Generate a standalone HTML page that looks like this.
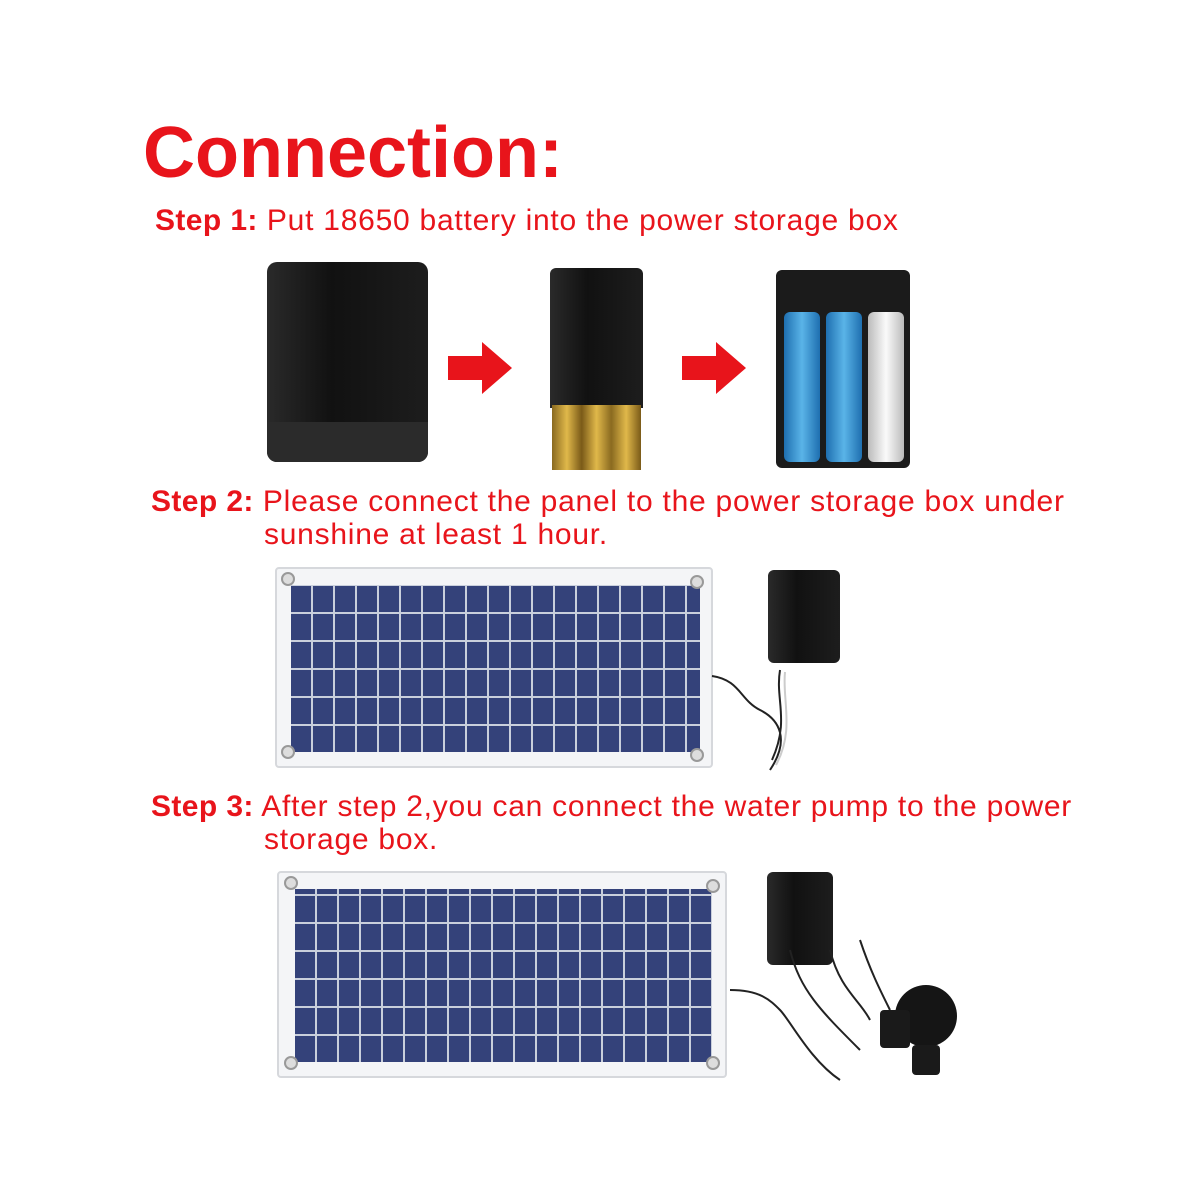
<!DOCTYPE html>
<html><head><meta charset="utf-8"><style>
body{margin:0;width:1200px;height:1200px;background:#fff;position:relative;overflow:hidden;font-family:"Liberation Sans",Arial,sans-serif;}
.a{position:absolute}
.t{color:#e8141b;font-size:30px;letter-spacing:0.75px;white-space:nowrap}
.t b{font-weight:bold;letter-spacing:0.4px}
.cells{background-color:#34427a;background-image:repeating-linear-gradient(90deg,transparent 0 20px,#c9cfdc 20px 22px),repeating-linear-gradient(0deg,transparent 0 26px,#c9cfdc 26px 28px);}
.frame{background:#f4f5f7;border:2px solid #d6d8dc;border-radius:4px}
.hole{position:absolute;width:10px;height:10px;border-radius:50%;border:2px solid #999;background:#ddd}
.blk{background:linear-gradient(90deg,#2a2a2a,#111 40%,#1d1d1d);border-radius:6px}
</style></head><body>
<div class="a" style="left:143px;top:112px;color:#e8141b;font-weight:bold;font-size:72px">Connection:</div>
<div class="a t" style="left:155px;top:204px"><b>Step 1:</b> Put 18650 battery into the power storage box</div>

<div class="a blk" style="left:267px;top:262px;width:161px;height:200px;border-radius:10px"></div>
<div class="a" style="left:267px;top:422px;width:161px;height:40px;background:#2b2b2b;border-radius:0 0 10px 10px"></div>
<svg class="a" style="left:448px;top:342px" width="66" height="52"><polygon points="0,14 34,14 34,0 64,26 34,52 34,38 0,38" fill="#e8141b"/></svg>
<div class="a blk" style="left:550px;top:268px;width:93px;height:140px;border-radius:6px 6px 0 0"></div>
<div class="a" style="left:552px;top:405px;width:89px;height:65px;background:linear-gradient(90deg,#8a6a20,#e0b84a,#7a5a18,#e0b84a,#8a6a20,#e0b84a,#7a5a18)"></div>
<svg class="a" style="left:682px;top:342px" width="66" height="52"><polygon points="0,14 34,14 34,0 64,26 34,52 34,38 0,38" fill="#e8141b"/></svg>
<div class="a" style="left:776px;top:270px;width:134px;height:198px;background:#1b1b1b;border-radius:6px"></div>
<div class="a" style="left:784px;top:312px;width:36px;height:150px;background:linear-gradient(90deg,#1e6fb0,#5ab4e8,#1e6fb0);border-radius:6px"></div>
<div class="a" style="left:826px;top:312px;width:36px;height:150px;background:linear-gradient(90deg,#1e6fb0,#5ab4e8,#1e6fb0);border-radius:6px"></div>
<div class="a" style="left:868px;top:312px;width:36px;height:150px;background:linear-gradient(90deg,#bbb,#fafafa,#bbb);border-radius:6px"></div>

<div class="a t" style="left:151px;top:485px"><b>Step 2:</b> Please connect the panel to the power storage box under</div>
<div class="a t" style="left:264px;top:518px">sunshine at least 1 hour.</div>
<div class="a frame" style="left:275px;top:567px;width:434px;height:197px"></div>
<div class="a cells" style="left:291px;top:585px;width:409px;height:167px"></div>
<div class="hole" style="left:281px;top:572px"></div><div class="hole" style="left:690px;top:575px"></div>
<div class="hole" style="left:281px;top:745px"></div><div class="hole" style="left:690px;top:748px"></div>
<div class="a blk" style="left:768px;top:570px;width:72px;height:93px"></div>
<svg class="a" style="left:700px;top:660px" width="110" height="120"><path d="M12,16 C40,20 40,40 60,50 S90,80 70,110 M80,10 C75,40 90,60 72,100" stroke="#222" stroke-width="2" fill="none"/><path d="M85,12 C82,40 95,70 76,105" stroke="#ccc" stroke-width="2" fill="none"/></svg>

<div class="a t" style="left:151px;top:790px"><b>Step 3:</b> After step 2,you can connect the water pump to the power</div>
<div class="a t" style="left:264px;top:823px">storage box.</div>
<div class="a frame" style="left:277px;top:871px;width:446px;height:203px"></div>
<div class="a cells" style="left:295px;top:889px;width:417px;height:173px"></div>
<div class="hole" style="left:284px;top:876px"></div><div class="hole" style="left:706px;top:879px"></div>
<div class="hole" style="left:284px;top:1056px"></div><div class="hole" style="left:706px;top:1056px"></div>
<div class="a blk" style="left:767px;top:872px;width:66px;height:93px"></div>
<svg class="a" style="left:720px;top:930px" width="260" height="160"><path d="M10,60 C40,60 50,70 60,80 S90,130 120,150 M70,20 C80,60 100,80 140,120 M110,20 C120,60 140,70 150,90 M140,10 C150,40 160,60 170,80" stroke="#222" stroke-width="2" fill="none"/></svg>
<div class="a" style="left:895px;top:985px;width:62px;height:62px;border-radius:50%;background:#151515"></div>
<div class="a" style="left:880px;top:1010px;width:30px;height:38px;background:#1a1a1a;border-radius:4px"></div>
<div class="a" style="left:912px;top:1045px;width:28px;height:30px;background:#1a1a1a;border-radius:4px"></div>
</body></html>
